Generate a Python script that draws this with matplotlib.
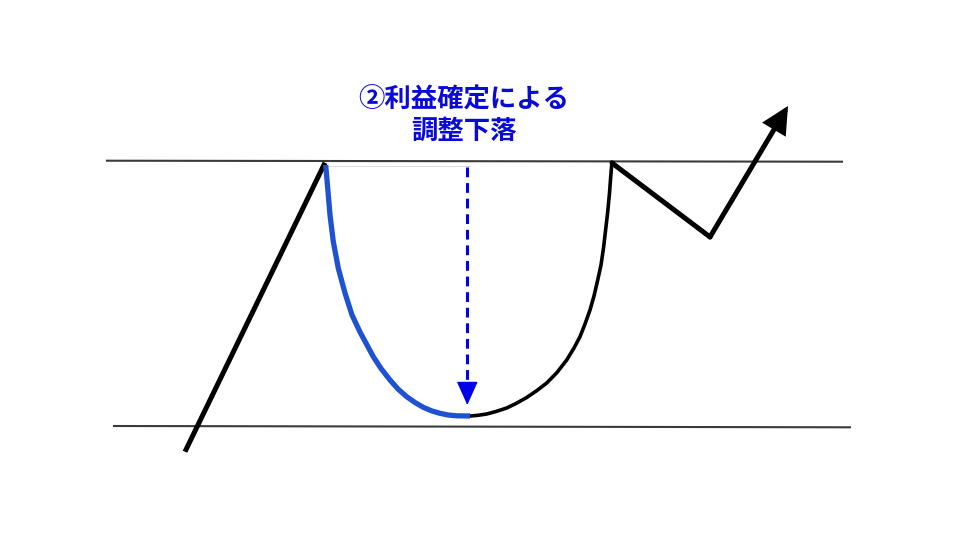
import matplotlib
matplotlib.use("Agg")
import matplotlib.pyplot as plt

plt.rcParams['font.family'] = ['Noto Sans CJK JP', 'DejaVu Sans']

# coordenadas en pixeles de la imagen (y hacia abajo)
linea_sup_x = [107, 842]
linea_sup_y = [160.7, 161.7]
linea_inf_x = [114, 850]
linea_inf_y = [426, 427.3]

subida_x = [185, 325]
subida_y = [451.7, 162.7]

# lado izquierdo de la taza (caida, azul)
taza_izq_x = [325.7, 327.7, 330, 333.3, 338.3, 345, 352, 360, 367, 373.3, 381, 390,
              398, 406.7, 415, 423.3, 432, 440, 448, 456.7, 470]
taza_izq_y = [165, 188, 215, 241.7, 268.3, 293, 315, 332, 345, 356.7, 368.5, 380,
              389, 396.7, 402.5, 407.3, 411, 413.3, 415, 415.8, 416]

# lado derecho de la taza (recuperacion, negro)
taza_der_x = [470, 478, 486.7, 496, 506.7, 516, 526.7, 537, 546.7, 557, 566.7, 574,
              580, 585, 590, 594, 597.5, 601, 603.5, 605.5, 607.7, 609.5, 610.7,
              611.7, 612.5]
taza_der_y = [416, 415.3, 414, 411.5, 408, 403.5, 397.5, 390.5, 383, 372.5, 360, 348,
              336.7, 324, 310, 296, 281, 265, 248, 231, 212, 193, 177, 165, 162.5]

# asa y ruptura
asa_x = [612, 710]
asa_y = [163, 237]
ruptura_ini = (710, 237)
ruptura_fin = (788, 106)

# flecha discontinua
flecha_x = 467.3
flecha_y_ini = 167
flecha_y_fin = 405

texto1 = '②利益確定による'
texto2 = '調整下落'

fig = plt.figure(figsize=(9.6, 5.4), dpi=100)
ax = fig.add_axes([0, 0, 1, 1])
ax.set_xlim(0, 960)
ax.set_ylim(540, 0)
ax.axis('off')

ax.plot(linea_sup_x, linea_sup_y, color='#3a3a3a', lw=1.5)
ax.plot(linea_inf_x, linea_inf_y, color='#3a3a3a', lw=1.5)
ax.plot([326, 470], [165.5, 165.5], color='#dcdcdc', lw=0.8)

ax.plot(subida_x, subida_y, color='black', lw=3.6, solid_capstyle='butt')
ax.plot(taza_der_x, taza_der_y, color='black', lw=2.6, solid_joinstyle='round')
ax.plot(taza_izq_x, taza_izq_y, color='#1e52d2', lw=3.8, solid_joinstyle='round',
        solid_capstyle='butt')
ax.plot(asa_x, asa_y, color='black', lw=3.6, solid_capstyle='round')
ax.annotate('', xy=ruptura_fin, xytext=ruptura_ini,
            arrowprops=dict(arrowstyle='-|>,head_length=1.0,head_width=0.5',
                            lw=3.6, color='black', mutation_scale=14,
                            shrinkA=0, shrinkB=0, joinstyle='miter'))

ax.plot([flecha_x, flecha_x], [flecha_y_ini, flecha_y_fin - 18],
        color='#0000e6', lw=2.2, linestyle=(0, (3.2, 1.9)))
ax.annotate('', xy=(flecha_x, flecha_y_fin), xytext=(flecha_x, flecha_y_fin - 20),
            arrowprops=dict(arrowstyle='-|>,head_length=1.0,head_width=0.45',
                            lw=1, color='#0000e6', mutation_scale=15,
                            shrinkA=0, shrinkB=0))

ax.text(464, 100, texto1, color='#0a0ad8', fontsize=19, fontweight='bold',
        ha='center', va='center')
ax.text(464, 131, texto2, color='#0a0ad8', fontsize=19, fontweight='bold',
        ha='center', va='center')

fig.savefig('out.png', dpi=100)
